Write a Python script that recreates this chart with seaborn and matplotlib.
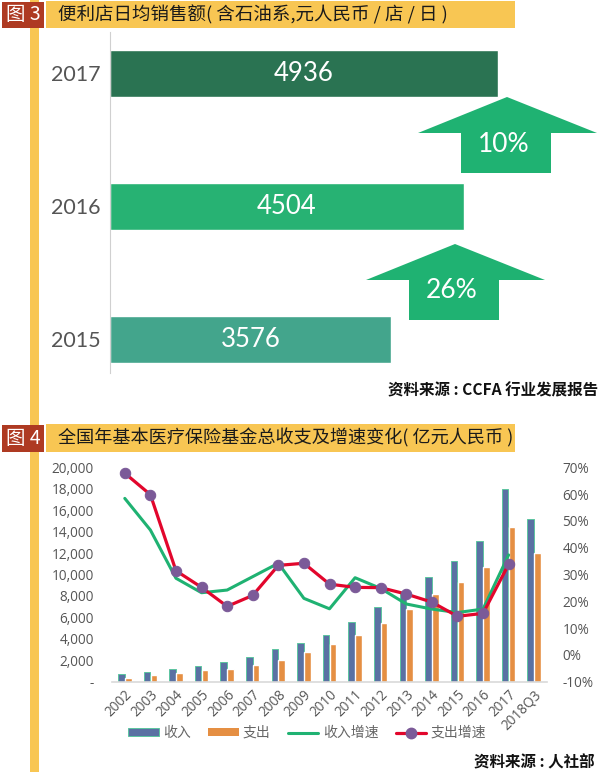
import matplotlib
matplotlib.use("Agg")
import matplotlib.pyplot as plt
from matplotlib.patches import Rectangle, Polygon
from matplotlib.lines import Line2D
from matplotlib.ticker import FuncFormatter
import seaborn as sns
import pandas as pd

sns.set_style("white")
CJK = ["Noto Sans CJK SC", "DejaVu Sans"]
plt.rcParams["font.family"] = CJK

W, H = 600, 772

sales_years = ["2017", "2016", "2015"]
sales_values = [4936, 4504, 3576]
sales_colors = ["#2A7352", "#27B273", "#43A58C"]
sales_growth = ["10%", "26%"]

years = ["2002", "2003", "2004", "2005", "2006", "2007", "2008", "2009", "2010",
         "2011", "2012", "2013", "2014", "2015", "2016", "2017", "2018Q3"]
income = [690, 930, 1180, 1460, 1800, 2300, 3040, 3640, 4390, 5570, 7000, 8180,
          9770, 11260, 13120, 18000, 15210]
expense = [340, 620, 780, 1090, 1180, 1520, 2020, 2800, 3540, 4390, 5470, 6750,
           8180, 9270, 10700, 14400, 11970]
income_growth = [58.4, 46.6, 28.6, 23.2, 24.2, 29.2, 34.2, 21.1, 17.2, 28.8, 24.8,
                 19.0, 17.1, 15.8, 17.1, 37.3, None]
expense_growth = [67.8, 59.8, 31.4, 25.2, 18.1, 22.2, 33.4, 34.2, 26.4, 25.2, 25.1,
                  22.7, 19.7, 14.4, 15.5, 33.8, None]

YEL, RED, BLUE, ORANGE, GREEN, CRIM, PURPLE = ("#F8C653", "#AE3A22", "#5A71A3", "#E58F43",
                                               "#1FB272", "#E2062C", "#7B5A98")
GREY = "#555555"

fig = plt.figure(figsize=(W / 100, H / 100), dpi=100, facecolor="white")


def px_axes(l, t, r, b):
    return fig.add_axes([l / W, 1 - b / H, (r - l) / W, (b - t) / H])


def fig_rect(l, t, r, b, color, zorder=0):
    fig.add_artist(Rectangle((l / W, 1 - b / H), (r - l) / W, (b - t) / H,
                             transform=fig.transFigure, color=color, lw=0, zorder=zorder))


def fig_text(x, y, s, **kw):
    fig.text(x / W, 1 - y / H, s, va="center", **kw)


# Furniture
fig_rect(30, 0, 39, 772, YEL)
for top, bot, right, label, title, size in [
    (1, 28, 515, "图 3", "便利店日均销售额( 含石油系,元人民币 / 店 / 日 )", 13.3),
    (424, 452, 515, "图 4", "全国年基本医疗保险基金总收支及增速变化( 亿元人民币 )", 13.05),
]:
    fig_rect(46, top, right, bot, YEL, 1)
    fig_rect(2, top + 1, 44, bot, RED, 1)
    fig_text(23, (top + bot) / 2, label, color="white", fontsize=14, ha="center", zorder=3)
    fig_text(58, (top + bot) / 2, title, color="#1a1a1a", fontsize=size, ha="left", zorder=3)

# Chart 3: horizontal bars
ax1 = px_axes(110, 32, 600, 373)
df1 = pd.DataFrame({"year": sales_years, "value": sales_values})
sns.barplot(data=df1, y="year", x="value", hue="year", palette=sales_colors, legend=False,
            width=0.357, ax=ax1, saturation=1, dodge=False)
ax1.set_xlim(0, 490 / 0.0786)
ax1.set_ylim(2.252, -0.312)
ax1.set_xlabel("")
ax1.set_ylabel("")
ax1.xaxis.set_visible(False)
for s in ["top", "right", "bottom"]:
    ax1.spines[s].set_visible(False)
ax1.spines["left"].set_color("#D0D0D0")
ax1.tick_params(axis="y", length=0, pad=7)
for lab in ax1.get_yticklabels():
    lab.set_fontfamily("Lato")
    lab.set_fontsize(15.5)
    lab.set_color(GREY)
for i, v in enumerate(sales_values):
    ax1.text(v / 2, i, str(v), color="white", fontsize=18.5, ha="center", va="center",
             family="Lato")

for apex_x, apex_y, label in [(507, 97, sales_growth[0]), (455, 244, sales_growth[1])]:
    wing = apex_y + 36
    bottom = apex_y + 76
    pts = [(apex_x, apex_y), (apex_x + 90, wing), (apex_x + 44, wing), (apex_x + 44, bottom),
           (apex_x - 46, bottom), (apex_x - 46, wing), (apex_x - 89, wing)]
    fig.add_artist(Polygon([(x / W, 1 - y / H) for x, y in pts], closed=True,
                           transform=fig.transFigure, color=GREEN, lw=0, zorder=4))
    fig_text(apex_x - 3, apex_y + 47, label, color="white", fontsize=19, ha="center",
             family="Lato", zorder=5)

fig_text(598, 390, "资料来源 : CCFA 行业发展报告", color="#111111", fontsize=11.2, ha="right",
         fontweight="bold")

# Chart 4: bars with growth lines
ax2 = px_axes(112, 467.3, 547, 681.7)
df2 = pd.DataFrame({"year": years * 2, "amount": income + expense,
                    "kind": ["收入"] * len(years) + ["支出"] * len(years)})
sns.barplot(data=df2, x="year", y="amount", hue="kind", palette=[BLUE, ORANGE], legend=False,
            width=0.54, gap=0.05, ax=ax2, saturation=1)
for c in ax2.patches[:len(years)]:
    c.set_edgecolor("#5CC5A0")
    c.set_linewidth(0.7)
ax2.set_xlim(-0.5, len(years) - 0.5)
ax2.set_ylim(0, 20000)
ax2.set_xlabel("")
ax2.set_ylabel("")
ax2.yaxis.set_major_locator(plt.MultipleLocator(2000))
ax2.yaxis.set_major_formatter(FuncFormatter(lambda v, _: "-" if v == 0 else f"{int(v):,}"))
for s in ["top", "right", "left"]:
    ax2.spines[s].set_visible(False)
ax2.spines["bottom"].set_color("#D9D9D9")
ax2.spines["bottom"].set_linewidth(1.2)
ax2.tick_params(axis="y", length=0, pad=13, labelsize=9.8, labelcolor=GREY)
ax2.tick_params(axis="x", length=0, pad=4, labelsize=9.8, labelcolor=GREY)
for lab in ax2.get_yticklabels() + ax2.get_xticklabels():
    lab.set_fontfamily("Open Sans")
plt.setp(ax2.get_xticklabels(), rotation=45, ha="right", rotation_mode="anchor")

ax3 = ax2.twinx()
df3 = pd.DataFrame({"year": years, "inc": income_growth, "exp": expense_growth})
sns.lineplot(data=df3, x="year", y="inc", color=GREEN, lw=2.2, ax=ax3, sort=False)
sns.lineplot(data=df3, x="year", y="exp", color=CRIM, lw=2.3, marker="o", markersize=7.5,
             markerfacecolor=PURPLE, markeredgecolor=PURPLE, ax=ax3, sort=False)
ax3.set_xlim(-0.5, len(years) - 0.5)
ax3.set_ylim(-10, 70)
ax3.set_xlabel("")
ax3.set_ylabel("")
ax3.yaxis.set_major_locator(plt.MultipleLocator(10))
ax3.yaxis.set_major_formatter(FuncFormatter(lambda v, _: f"{int(v)}%"))
ax3.tick_params(axis="y", length=0, pad=11, labelsize=9.8, labelcolor=GREY)
for lab in ax3.get_yticklabels():
    lab.set_fontfamily("Open Sans")
for s in ax3.spines.values():
    s.set_visible(False)

handles = [Rectangle((0, 0), 1, 1, facecolor=BLUE, edgecolor="#5CC5A0", lw=0.7),
           Rectangle((0, 0), 1, 1, facecolor=ORANGE, lw=0),
           Line2D([0], [0], color=GREEN, lw=2.2),
           Line2D([0], [0], color=CRIM, lw=2.3, marker="o", ms=7.5, mfc=PURPLE, mec=PURPLE)]
fig.legend(handles, ["收入", "支出", "收入增速", "支出增速"], loc="center", ncol=4,
           bbox_to_anchor=(307 / W, 1 - 733 / H), frameon=False, fontsize=10,
           labelcolor="#666666", handlelength=2.2, columnspacing=1.25, handletextpad=0.3,
           handleheight=0.5)
fig_text(595, 762, "资料来源 : 人社部", color="#111111", fontsize=11.2, ha="right",
         fontweight="bold")

fig.savefig("out.png", dpi=100)
